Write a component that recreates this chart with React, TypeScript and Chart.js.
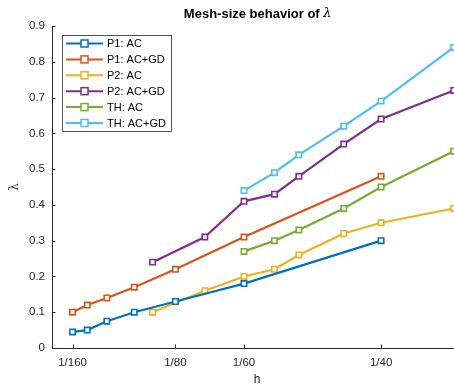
import React, { useEffect, useRef } from "react";
import { Chart, registerables } from "chart.js";
Chart.register(...registerables);

const seriesLabels = ["P1: AC", "P1: AC+GD", "P2: AC", "P2: AC+GD", "TH: AC", "TH: AC+GD"];
const seriesColors = ["#0072BD", "#D95319", "#EDB120", "#7E2F8E", "#77AC30", "#4DBEEE"];

const p1H = [1 / 160, 1 / 140, 1 / 120, 1 / 100, 1 / 80, 1 / 60, 1 / 40];
const p1AcY = [0.045, 0.05, 0.075, 0.1, 0.13, 0.18, 0.3];
const p1AcGdY = [0.1, 0.12, 0.14, 0.17, 0.22, 0.31, 0.48];
const p2H = [1 / 90, 1 / 70, 1 / 60, 1 / 54, 1 / 50, 1 / 44, 1 / 40, 1 / 34];
const p2AcY = [0.1, 0.16, 0.2, 0.22, 0.26, 0.32, 0.35, 0.39];
const p2AcGdY = [0.24, 0.31, 0.41, 0.43, 0.48, 0.57, 0.64, 0.72];
const thH = [1 / 60, 1 / 54, 1 / 50, 1 / 44, 1 / 40, 1 / 34];
const thAcY = [0.27, 0.3, 0.33, 0.39, 0.45, 0.55];
const thAcGdY = [0.44, 0.49, 0.54, 0.62, 0.69, 0.84];

const xTickValues = [1 / 160, 1 / 80, 1 / 60, 1 / 40];
const xTickLabels = ["1/160", "1/80", "1/60", "1/40"];

const seriesX = [p1H, p1H, p2H, p2H, thH, thH];
const seriesY = [p1AcY, p1AcGdY, p2AcY, p2AcGdY, thAcY, thAcGdY];

const FONT = "'Liberation Sans', Arial, sans-serif";
const AXIS_COLOR = "#262626";

const decorPlugin = {
  id: "decor",
  afterDraw(chart: any) {
    const ctx = chart.ctx;
    const area = chart.chartArea;
    const xs = chart.scales.x;
    const ys = chart.scales.y;
    ctx.save();
    // inward ticks
    ctx.strokeStyle = AXIS_COLOR;
    ctx.lineWidth = 1;
    ctx.beginPath();
    ys.ticks.forEach((t: any) => {
      const y = Math.round(ys.getPixelForValue(t.value)) + 0.5;
      ctx.moveTo(area.left, y);
      ctx.lineTo(area.left + 3.5, y);
    });
    xTickValues.forEach((v) => {
      const x = Math.round(xs.getPixelForValue(v)) + 0.5;
      ctx.moveTo(x, area.bottom);
      ctx.lineTo(x, area.bottom - 3.5);
    });
    ctx.stroke();

    // title
    const cx = (area.left + area.right) / 2;
    const tMain = "Mesh-size behavior of ";
    const tSym = "λ";
    ctx.fillStyle = "#000";
    ctx.textBaseline = "middle";
    ctx.font = `bold 13px ${FONT}`;
    const w1 = ctx.measureText(tMain).width;
    ctx.font = `italic 13px 'DejaVu Serif', serif`;
    const w2 = ctx.measureText(tSym).width;
    const x0 = cx - (w1 + w2) / 2;
    ctx.textAlign = "left";
    ctx.font = `bold 13px ${FONT}`;
    ctx.fillText(tMain, x0, 14);
    ctx.font = `italic 13px 'DejaVu Serif', serif`;
    ctx.fillText(tSym, x0 + w1, 14);

    // axis labels
    ctx.fillStyle = AXIS_COLOR;
    ctx.font = `12px ${FONT}`;
    ctx.textAlign = "center";
    ctx.fillText("h", 257, 380);
    ctx.save();
    ctx.translate(15, 187);
    ctx.rotate(-Math.PI / 2);
    ctx.font = `12px 'DejaVu Serif', serif`;
    ctx.fillText("λ", 0, 0);
    ctx.restore();

    // legend
    const bx = 62, by = 35, bw = 109, bh = 96;
    ctx.fillStyle = "#fff";
    ctx.fillRect(bx, by, bw, bh);
    ctx.strokeStyle = AXIS_COLOR;
    ctx.lineWidth = 0.8;
    ctx.strokeRect(bx + 0.5, by + 0.5, bw, bh);
    seriesLabels.forEach((lab, i) => {
      const y = 43.5 + i * 15.9;
      const c = seriesColors[i];
      ctx.strokeStyle = c;
      ctx.lineWidth = 2;
      ctx.beginPath();
      ctx.moveTo(66, y);
      ctx.lineTo(103, y);
      ctx.stroke();
      ctx.fillStyle = "#fff";
      ctx.fillRect(81, y - 3.5, 7, 7);
      ctx.lineWidth = 1.5;
      ctx.strokeRect(81, y - 3.5, 7, 7);
      ctx.fillStyle = "#000";
      ctx.textAlign = "left";
      ctx.textBaseline = "middle";
      ctx.font = `11px ${FONT}`;
      ctx.fillText(lab, 107, y + 0.5);
    });
    ctx.restore();
  },
};

export default function App() {
  const ref = useRef<HTMLCanvasElement | null>(null);
  useEffect(() => {
    if (!ref.current) return;
    const datasets = seriesLabels.map((lab, i) => ({
      label: lab,
      data: seriesX[i].map((x, j) => ({ x, y: seriesY[i][j] })),
      borderColor: seriesColors[i],
      backgroundColor: "#fff",
      borderWidth: 2.2,
      pointStyle: "rect" as const,
      pointRadius: 3.8,
      pointBorderWidth: 1.6,
      pointBackgroundColor: "#fff",
      pointBorderColor: seriesColors[i],
      tension: 0,
    }));
    const chart = new Chart(ref.current, {
      type: "line",
      data: { datasets },
      options: {
        animation: false,
        responsive: false,
        devicePixelRatio: 1,
        layout: { padding: { top: 26, right: 1, left: 0, bottom: 0 } },
        plugins: { legend: { display: false }, title: { display: false }, tooltip: { enabled: false } },
        scales: {
          x: {
            type: "linear",
            min: 0.005,
            max: 0.03,
            grid: { display: false, drawTicks: false, tickLength: 0 },
            border: { display: true, color: AXIS_COLOR, width: 1 },
            afterBuildTicks: (scale: any) => {
              scale.ticks = xTickValues.map((v) => ({ value: v }));
            },
            afterFit: (scale: any) => {
              scale.height = 40;
              scale.paddingLeft = 0;
              scale.paddingRight = 0;
            },
            ticks: {
              autoSkip: false,
              maxRotation: 0,
              padding: 8,
              color: AXIS_COLOR,
              font: { family: FONT, size: 11.5 },
              callback: (_v: any, i: number) => xTickLabels[i],
            },
          },
          y: {
            type: "linear",
            min: 0,
            max: 0.9,
            grid: { display: false, drawTicks: false, tickLength: 0 },
            border: { display: true, color: AXIS_COLOR, width: 1 },
            afterFit: (scale: any) => {
              scale.width = 52;
            },
            ticks: {
              stepSize: 0.1,
              padding: 7,
              color: AXIS_COLOR,
              font: { family: FONT, size: 11.5 },
              callback: (v: any) => String(Math.round(Number(v) * 10) / 10),
            },
          },
        },
      },
      plugins: [decorPlugin],
    });
    return () => chart.destroy();
  }, []);
  return (
    <div style={{ position: "fixed", left: 0, top: 0, width: 454, height: 388, overflow: "hidden", background: "#fff" }}>
      <canvas ref={ref} width={469} height={388} style={{ width: 469, height: 388, display: "block" }} />
    </div>
  );
}
